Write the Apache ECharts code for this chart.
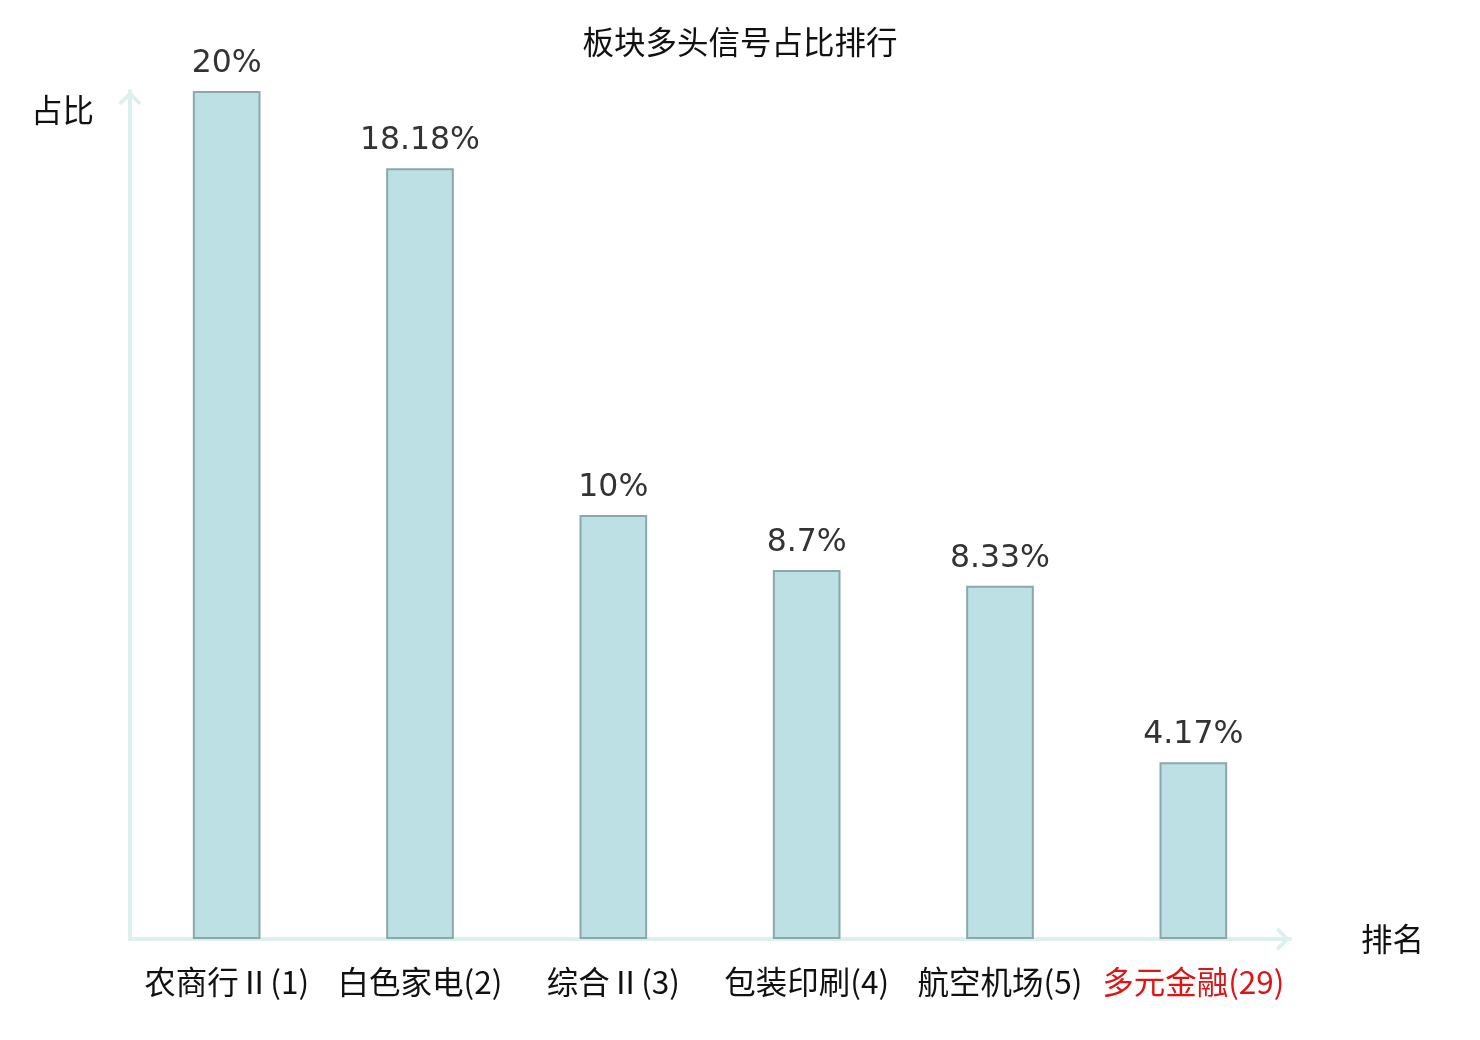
<!DOCTYPE html>
<html>
<head>
<meta charset="utf-8">
<script src="https://cdn.jsdelivr.net/npm/echarts@6/dist/echarts.min.js"></script>
<style>
  html, body { margin: 0; padding: 0; background: #fff; }
  #chart { width: 1480px; height: 1040px; }
</style>
</head>
<body>
<div id="chart"></div>
<script>
const titleText = "板块多头信号占比排行";
const categories = ["农商行Ⅱ(1)", "白色家电(2)", "综合Ⅱ(3)", "包装印刷(4)", "航空机场(5)", "多元金融(29)"];
const shares = [20, 18.18, 10, 8.7, 8.33, 4.17];
const highlightIndex = 5;

const axisColor = "#dcf1ee";
const chevron = "path://M10,0 L20,10 L17.6,12 L10,4.6 L2.4,12 L0,10 Z";
const cjk = "Noto Sans CJK SC";
const fs = 31.5;

const chart = echarts.init(document.getElementById("chart"));

const option = {
  animation: false,
  title: {
    text: titleText,
    left: "center",
    top: 21,
    textStyle: { fontSize: fs, fontWeight: "normal", color: "#111", fontFamily: cjk }
  },
  grid: { left: 130, right: 190, top: 91, bottom: 101 },
  xAxis: {
    type: "category",
    data: categories,
    name: "排名",
    nameLocation: "end",
    nameGap: 71,
    nameTextStyle: { fontSize: fs, color: "#111", fontFamily: cjk },
    axisLine: {
      lineStyle: { color: axisColor, width: 4 },
      symbol: ["none", chevron],
      symbolSize: [26, 14],
      symbolOffset: [0, -7]
    },
    axisTick: { show: false },
    axisLabel: {
      interval: 0,
      margin: 27,
      fontSize: fs,
      fontFamily: cjk,
      color: (value, index) => index === highlightIndex ? "#e01414" : "#111"
    }
  },
  yAxis: {
    type: "value",
    min: 0,
    max: 20,
    name: "占比",
    nameLocation: "end",
    nameGap: -19,
    nameTextStyle: {
      fontSize: fs, color: "#111", fontFamily: cjk,
      align: "right", verticalAlign: "middle", padding: [0, 36, 0, 0]
    },
    axisLine: {
      show: true,
      lineStyle: { color: axisColor, width: 4 },
      symbol: ["none", chevron],
      symbolSize: [26, 14],
      symbolOffset: [0, -7]
    },
    axisTick: { show: false },
    axisLabel: { show: false },
    splitLine: { show: false }
  },
  series: [{
    type: "bar",
    data: shares,
    barWidth: "35%",
    itemStyle: { color: "#bce0e3", borderColor: "#8aa8aa", borderWidth: 2 },
    label: {
      show: true,
      position: "top",
      distance: 11,
      fontSize: fs,
      color: "#333",
      fontFamily: "DejaVu Sans",
      formatter: p => p.value + "%"
    }
  }]
};

chart.setOption(option);
</script>
</body>
</html>
